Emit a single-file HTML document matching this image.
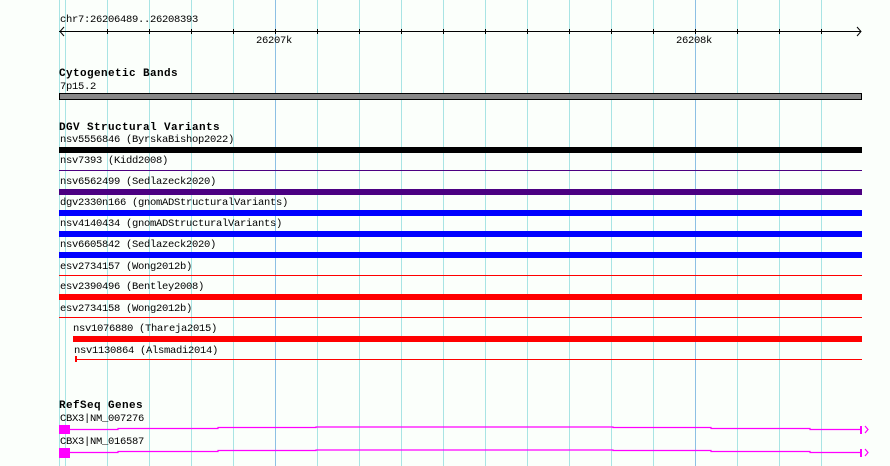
<!DOCTYPE html>
<html><head><style>
body{margin:0;width:890px;height:466px;overflow:hidden;background:#fbfffb;position:relative;font-family:"Liberation Mono",monospace;}
.g{position:absolute;top:0;height:466px;width:1px;background:#a8e4e4;}
.gm{background:#8cc0e4;}
.t{position:absolute;font-size:10.5px;line-height:11px;color:#000;white-space:pre;letter-spacing:-0.3px;}
.h{position:absolute;font-size:11px;font-weight:bold;letter-spacing:0.4px;line-height:12px;white-space:pre;}
.b{position:absolute;left:59px;width:803px;}
</style></head><body>
<div class="g" style="left:59px"></div>
<div class="g" style="left:65px"></div><div class="g" style="left:107px"></div><div class="g" style="left:149px"></div><div class="g" style="left:191px"></div><div class="g" style="left:233px"></div><div class="g gm" style="left:275px"></div><div class="g" style="left:317px"></div><div class="g" style="left:359px"></div><div class="g" style="left:401px"></div><div class="g" style="left:443px"></div><div class="g" style="left:485px"></div><div class="g" style="left:527px"></div><div class="g" style="left:569px"></div><div class="g" style="left:611px"></div><div class="g" style="left:653px"></div><div class="g gm" style="left:695px"></div><div class="g" style="left:737px"></div><div class="g" style="left:779px"></div><div class="g" style="left:821px"></div>
<svg style="position:absolute;left:0;top:0" width="890" height="466">
<line x1="59" y1="31.5" x2="861" y2="31.5" stroke="#000"/>
<polyline points="64,27 60,31.5 64,36" fill="none" stroke="#000"/>
<polyline points="857,27 861,31.5 857,36" fill="none" stroke="#000"/>
<g stroke="#000">
<line x1="107.5" y1="29" x2="107.5" y2="34"/><line x1="149.5" y1="29" x2="149.5" y2="34"/><line x1="191.5" y1="29" x2="191.5" y2="34"/><line x1="233.5" y1="29" x2="233.5" y2="34"/><line x1="275.5" y1="29" x2="275.5" y2="34"/><line x1="317.5" y1="29" x2="317.5" y2="34"/><line x1="359.5" y1="29" x2="359.5" y2="34"/><line x1="401.5" y1="29" x2="401.5" y2="34"/><line x1="443.5" y1="29" x2="443.5" y2="34"/><line x1="485.5" y1="29" x2="485.5" y2="34"/><line x1="527.5" y1="29" x2="527.5" y2="34"/><line x1="569.5" y1="29" x2="569.5" y2="34"/><line x1="611.5" y1="29" x2="611.5" y2="34"/><line x1="653.5" y1="29" x2="653.5" y2="34"/><line x1="695.5" y1="29" x2="695.5" y2="34"/><line x1="737.5" y1="29" x2="737.5" y2="34"/><line x1="779.5" y1="29" x2="779.5" y2="34"/><line x1="821.5" y1="29" x2="821.5" y2="34"/>
</g>
<rect x="59.5" y="93.5" width="802" height="6" fill="#888" stroke="#000"/>
<g fill="none" stroke="#f0f" stroke-width="1.2">
<polyline points="70,429.5 118,429.5 118,428.5 218,428.5 218,427.5 316,427.5 316,427 613,427 613,427.5 711,427.5 711,428.5 810,428.5 810,429.5 861,429.5"/>
<polyline points="70,452.5 118,452.5 118,451.5 218,451.5 218,450.5 316,450.5 316,450 613,450 613,450.5 711,450.5 711,451.5 810,451.5 810,452.5 861,452.5"/>
<polyline points="865,426 868,429.5 865,433"/><polyline points="865,449 868,452.5 865,456"/>
</g>
<rect x="59" y="425" width="11" height="9" fill="#f0f"/><rect x="59" y="448" width="11" height="10" fill="#f0f"/>
<rect x="860" y="426" width="2" height="8" fill="#f0f"/><rect x="860" y="449" width="2" height="8" fill="#f0f"/>
</svg>
<div class="t" style="left:60px;top:15px">chr7:26206489..26208393</div>
<div class="t" style="left:256px;top:36px">26207k</div>
<div class="t" style="left:676px;top:36px">26208k</div>
<div class="h" style="left:59px;top:68px">Cytogenetic Bands</div>
<div class="t" style="left:60px;top:82px">7p15.2</div>
<div class="h" style="left:59px;top:122px">DGV Structural Variants</div>
<div class="t" style="left:60px;top:135px">nsv5556846 (ByrskaBishop2022)</div>
<div class="b" style="top:147px;height:6px;background:#000"></div>
<div class="t" style="left:60px;top:156px">nsv7393 (Kidd2008)</div>
<div class="b" style="top:170px;height:1px;background:#4b0082"></div>
<div class="t" style="left:60px;top:177px">nsv6562499 (Sedlazeck2020)</div>
<div class="b" style="top:189px;height:6px;background:#4b0082"></div>
<div class="t" style="left:60px;top:198px">dgv2330n166 (gnomADStructuralVariants)</div>
<div class="b" style="top:210px;height:6px;background:#00f"></div>
<div class="t" style="left:60px;top:219px">nsv4140434 (gnomADStructuralVariants)</div>
<div class="b" style="top:231px;height:6px;background:#00f"></div>
<div class="t" style="left:60px;top:240px">nsv6605842 (Sedlazeck2020)</div>
<div class="b" style="top:252px;height:6px;background:#00f"></div>
<div class="t" style="left:60px;top:262px">esv2734157 (Wong2012b)</div>
<div class="b" style="top:275px;height:1px;background:#f00"></div>
<div class="t" style="left:60px;top:282px">esv2390496 (Bentley2008)</div>
<div class="b" style="top:294px;height:6px;background:#f00"></div>
<div class="t" style="left:60px;top:304px">esv2734158 (Wong2012b)</div>
<div class="b" style="top:317px;height:1px;background:#f00"></div>
<div class="t" style="left:73px;top:324px">nsv1076880 (Thareja2015)</div>
<div style="position:absolute;left:73px;width:789px;top:336px;height:6px;background:#f00"></div>
<div class="t" style="left:74px;top:346px">nsv1130864 (Alsmadi2014)</div>
<div style="position:absolute;left:75px;width:787px;top:359px;height:1px;background:#f00"></div>
<div style="position:absolute;left:75px;width:2px;top:356px;height:6px;background:#f00"></div>
<div class="h" style="left:59px;top:400px">RefSeq Genes</div>
<div class="t" style="left:60px;top:414px">CBX3|NM_007276</div>
<div class="t" style="left:60px;top:437px">CBX3|NM_016587</div>
</body></html>
